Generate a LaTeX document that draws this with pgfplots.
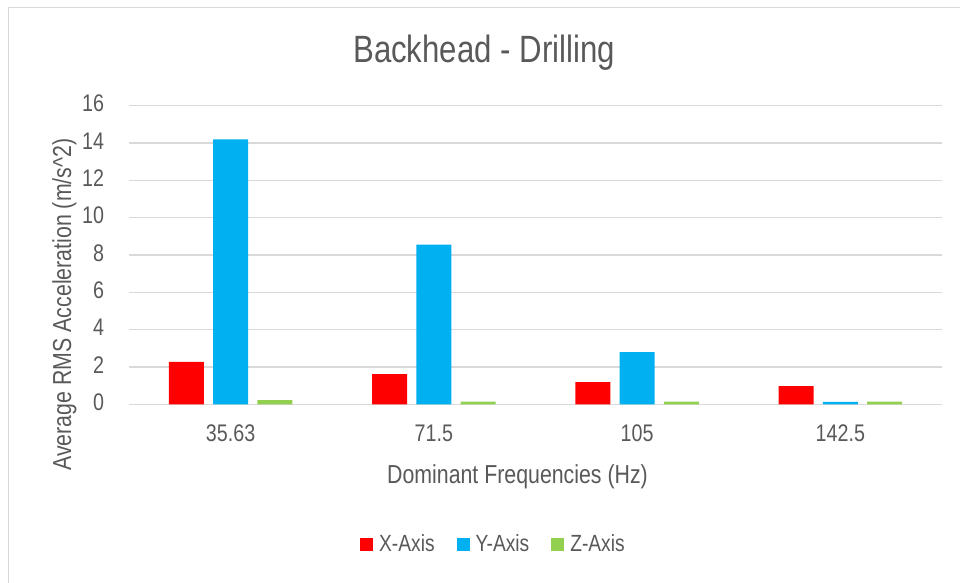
\documentclass[border=0pt]{standalone}
\usepackage{pgfplots}
\pgfplotsset{compat=1.18}
\usepackage{fontspec}
\setmainfont{Liberation Sans}[FakeStretch=0.82]

\definecolor{txtgray}{HTML}{595959}
\definecolor{gridgray}{HTML}{D9D9D9}
\definecolor{xred}{HTML}{FF0000}
\definecolor{yblue}{HTML}{00B0F0}
\definecolor{zgreen}{HTML}{92D050}

\begin{document}
\begin{tikzpicture}
  % canvas and outer chart frame
  \path[use as bounding box] (0pt,0pt) rectangle (480pt,291.5pt);
  \draw[gridgray, line width=0.75pt] (4.25pt,0pt) -- (4.25pt,287.75pt) -- (480pt,287.75pt);

  \begin{axis}[
    at={(64.5pt,89.35pt)}, anchor=south west,
    width=406.5pt, height=149.3pt, scale only axis,
    xmin=-0.5, xmax=3.5,
    ymin=0, ymax=16,
    ytick={0,2,...,16},
    xtick={0,1,2,3},
    xticklabels={35.63,71.5,105,142.5},
    axis line style={draw=none},
    major tick length=0pt,
    tick style={draw=none},
    ymajorgrids,
    grid style={gridgray, line width=0.6pt},
    /pgf/number format/assume math mode=true,
    ticklabel style={font=\fontsize{12}{14}\selectfont, text=txtgray},
    yticklabel style={inner sep=0pt, anchor=east, xshift=-12.25pt, yshift=1pt},
    xticklabel style={inner sep=0pt, anchor=north, yshift=-10pt},
    title={Backhead - Drilling},
    % the default title style already shifts up by 6pt; undo it
    title style={at={(axis description cs:0.4367,1.144)}, anchor=base, yshift=-6pt,
      inner sep=0pt, font=\fontsize{19}{22}\selectfont, text=txtgray},
    xlabel={Dominant Frequencies (Hz)},
    xlabel style={at={(axis description cs:0.4779,-0.2669)}, anchor=base,
      inner sep=0pt, font=\fontsize{13}{15}\selectfont, text=txtgray},
    ylabel={Average RMS Acceleration (m/s\textasciicircum 2)},
    ylabel style={at={(axis description cs:-0.0713,0.334)}, anchor=base,
      rotate=0, inner sep=0pt, font=\fontsize{13}{15}\selectfont, text=txtgray},
    ybar, bar width=0.172,
    legend columns=3,
    legend style={at={(axis description cs:0.447,-0.471)}, anchor=center,
      draw=none, fill=none,
      font=\fontsize{11.7}{14}\selectfont, text=txtgray,
      nodes={inner sep=0pt},
      /tikz/every odd column/.append style={column sep=3pt},
      /tikz/every even column/.append style={column sep=11pt}},
    legend image code/.code={\fill[#1] (0pt,-3.25pt) rectangle (6.5pt,3.25pt);},
  ]
    \addplot[fill=xred, draw=none, bar shift=-0.218]
      coordinates {(0,2.27) (1,1.62) (2,1.19) (3,0.98)};
    \addplot[fill=yblue, draw=none, bar shift=0]
      coordinates {(0,14.2) (1,8.55) (2,2.80) (3,0.13)};
    \addplot[fill=zgreen, draw=none, bar shift=0.218]
      coordinates {(0,0.23) (1,0.14) (2,0.14) (3,0.14)};
    \legend{X-Axis, Y-Axis, Z-Axis}
  \end{axis}
\end{tikzpicture}
\end{document}
